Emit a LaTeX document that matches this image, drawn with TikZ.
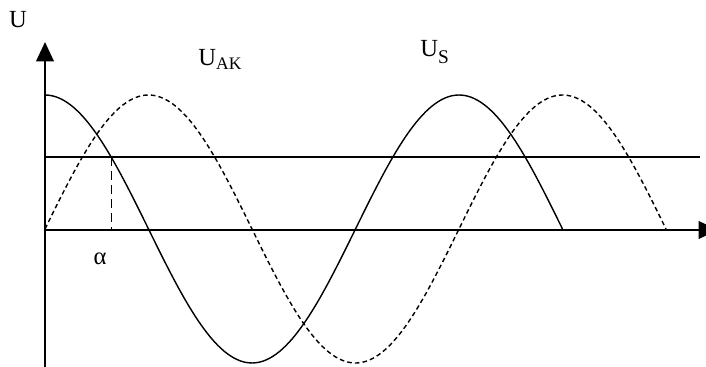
\documentclass[tikz,border=0pt]{standalone}
\usepackage{fontspec}
\setmainfont{Liberation Serif}
\usetikzlibrary{arrows.meta}

\begin{document}
\begin{tikzpicture}[x=0.02cm, y=-0.02cm,
    axis/.style={line width=1.1pt, -{Triangle[length=11pt, width=10pt]}},
    level/.style={line width=1.1pt},
    usig/.style={line width=0.8pt},
    uak/.style={line width=0.8pt, dash pattern=on 2.6pt off 1.8pt},
    every node/.style={inner sep=0pt, font=\fontsize{14}{16}\selectfont}]
            \useasboundingbox (0,0) rectangle (706,367);

            % axes
            \coordinate (o) at (45,230);
            \coordinate (ybot) at (45,367);
            \coordinate (ytop) at (45,42);
            \coordinate (xend) at (718,230);
            \draw[axis] (ybot) -- (ytop);
            \draw[axis] (o) -- (xend);

            % level line
            \coordinate (l1) at (45,157);
            \coordinate (l2) at (700,157);
            \draw[level] (l1) -- (l2);

            % U_S and U_AK
            \draw[usig] plot[domain=45:562.5, samples=160]
                (\x, {229 - 134*cos((\x-45)/414*360)});
            \draw[uak] plot[domain=45:666, samples=200]
                (\x, {229 - 134*sin((\x-45)/414*360)});

            % alpha
            \pgfmathsetmacro\xalpha{45+acos(72/134)/360*414}
            \coordinate (a) at (\xalpha,157);
            \coordinate (a0) at (a |- o);
            \draw[line width=0.6pt, dash pattern=on 5pt off 3pt] (a) -- (a0);

            % labels
            \node (ulab) at (18,20) {U};
            \node[anchor=west] (uaklab) at (198,59) {U\raisebox{-0.35ex}{\fontsize{10}{11}\selectfont AK}};
            \node[anchor=west] (uslab) at (420,52) {U\raisebox{-0.6ex}{\fontsize{11}{12}\selectfont S}};
            \node (alab) at (100,259) {α};
        \end{tikzpicture}
\end{document}
